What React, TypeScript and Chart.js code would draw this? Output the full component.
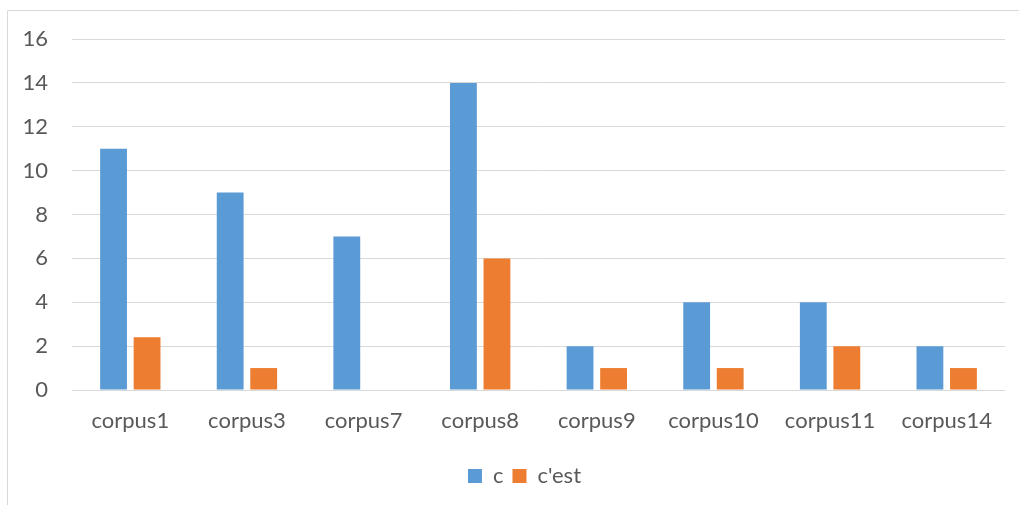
import React, { useEffect, useRef } from "react";
import { Chart, registerables } from "chart.js";

Chart.register(...registerables);

const categories = ["corpus1", "corpus3", "corpus7", "corpus8", "corpus9", "corpus10", "corpus11", "corpus14"];
const seriesC = [11, 9, 7, 14, 2, 4, 4, 2];
const seriesCest = [2.4, 1, 0, 6, 1, 1, 2, 1];
const yTicks = [0, 2, 4, 6, 8, 10, 12, 14, 16];

const FONT = "Lato";
const TEXT = "#595959";
const GRID = "#d9d9d9";

const framePlugin = {
  id: "frame",
  afterLayout(chart: any) {
    if (chart.legend) {
      chart.legend.left = chart.legend.left + 44;
    }
  },
  beforeDraw(chart: any) {
    const ctx = chart.ctx;
    ctx.save();
    ctx.fillStyle = "#ffffff";
    ctx.fillRect(0, 0, chart.width, chart.height);
    ctx.strokeStyle = GRID;
    ctx.lineWidth = 1;
    ctx.beginPath();
    ctx.moveTo(7.5, chart.height);
    ctx.lineTo(7.5, 10.5);
    ctx.lineTo(chart.width, 10.5);
    ctx.stroke();
    ctx.restore();
  },
};

export default function App() {
  const ref = useRef<HTMLCanvasElement | null>(null);
  useEffect(() => {
    if (!ref.current) return;
    const chart = new Chart(ref.current, {
      type: "bar",
      data: {
        labels: categories,
        datasets: [
          { label: "c", data: seriesC, backgroundColor: "#5B9BD5", borderWidth: 0 },
          { label: "c'est", data: seriesCest, backgroundColor: "#ED7D31", borderWidth: 0 },
        ],
      },
      options: {
        animation: false,
        responsive: true,
        maintainAspectRatio: false,
        datasets: { bar: { categoryPercentage: 0.575, barPercentage: 0.8 } },
        layout: { padding: { top: 39, right: 14, left: 0, bottom: 8 } },
        plugins: {
          tooltip: { enabled: false },
          legend: {
            position: "bottom",
            labels: {
              boxWidth: 14,
              boxHeight: 14,
              padding: 9,
              color: TEXT,
              font: { family: FONT, size: 22 },
            },
          },
        },
        scales: {
          x: {
            grid: { display: false, drawTicks: false },
            border: { display: false },
            ticks: { color: TEXT, font: { family: FONT, size: 22 }, padding: 18, maxRotation: 0 },
            afterFit(scale: any) {
              scale.height = 66;
            },
          },
          y: {
            min: 0,
            max: 16,
            afterBuildTicks(scale: any) {
              scale.ticks = yTicks.map((v) => ({ value: v }));
            },
            grid: { color: GRID, lineWidth: 1, drawTicks: false },
            border: { display: false },
            ticks: { color: TEXT, font: { family: FONT, size: 22 }, padding: 24 },
            afterFit(scale: any) {
              scale.width = 72;
            },
          },
        },
      },
      plugins: [framePlugin],
    });
    return () => chart.destroy();
  }, []);
  return (
    <div style={{ position: "absolute", left: 0, top: 0, width: 1019, height: 505 }}>
      <canvas ref={ref} />
    </div>
  );
}
